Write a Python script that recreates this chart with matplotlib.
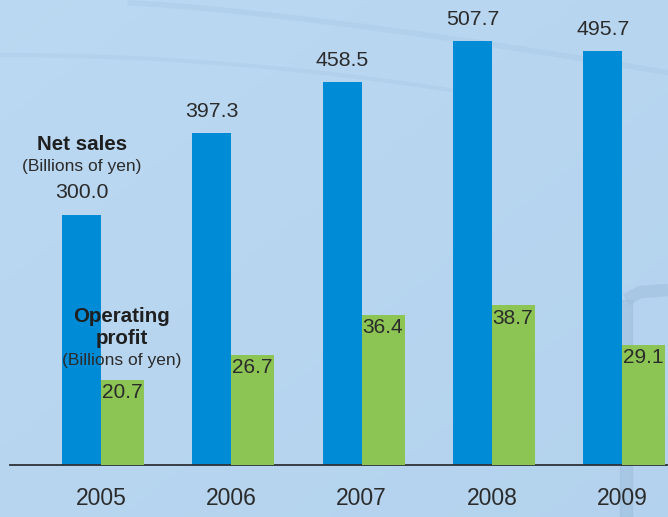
import matplotlib
matplotlib.use("Agg")
import matplotlib.pyplot as plt
import numpy as np

years = ["2005", "2006", "2007", "2008", "2009"]
net_sales = [300.0, 397.3, 458.5, 507.7, 495.7]
operating_profit = [20.7, 26.7, 36.4, 38.7, 29.1]

BLUE = "#008bd6"
GREEN = "#8cc553"
BG = "#b6d5f0"
TEXT = "#2b2b2b"

plt.rcParams["font.family"] = ["Liberation Sans", "DejaVu Sans"]

W, H = 668, 517
fig = plt.figure(figsize=(W / 100, H / 100), dpi=100)
fig.patch.set_facecolor(BG)

# soft backdrop: gentle gradient plus faint lamp post shapes
bg = fig.add_axes([0, 0, 1, 1])
bg.set_xlim(0, W)
bg.set_ylim(H, 0)
bg.axis("off")
yy, xx = np.mgrid[0:H, 0:W]
shade = 0.5 * (xx / W) + 0.5 * (yy / H)
r = 0.735 - 0.03 * shade
g = 0.850 - 0.025 * shade
b = 0.950 - 0.02 * shade
bg.imshow(np.dstack([r, g, b]), extent=[0, W, H, 0], aspect="auto", zorder=0)
t = np.linspace(0, 1, 100)
bg.plot(130 + 540 * t, 3 + 70 * t ** 1.3, color="#a3c5e4", lw=4, alpha=0.35, zorder=1)
bg.plot(0 + 450 * t, 55 + 35 * t ** 2, color="#a3c5e4", lw=3, alpha=0.3, zorder=1)
bg.fill_between([620, 632], 300, H, color="#9dbedd", alpha=0.55, zorder=1)
bg.plot([626, 640, 668], [300, 292, 290], color="#9dbedd", lw=9, alpha=0.55,
        solid_capstyle="butt", zorder=1)

# bar axes, twin y scales for the two series
base_px = 465
ax = fig.add_axes([0, 0, 1, 1], facecolor="none")
step = 130.3
left_px = 101
ax.set_xlim(-left_px / step, (W - left_px) / step)
blue_scale = 0.835
ax.set_ylim(-(H - base_px) / blue_scale, base_px / blue_scale)
ax.axis("off")

ax2 = ax.twinx()
green_scale = 4.13
ax2.set_ylim(-(H - base_px) / green_scale, base_px / green_scale)
ax2.axis("off")

x = np.arange(len(years))
wb = 39 / step
wg = 43 / step
ax.bar(x, net_sales, width=-wb, align="edge", color=BLUE, zorder=2)
ax2.bar(x, operating_profit, width=wg, align="edge", color=GREEN, zorder=2)

for xi, v in zip(x, net_sales):
    ax.annotate(f"{v:.1f}", (xi - wb / 2, v), xytext=(0, 9), textcoords="offset points",
                ha="center", va="bottom", fontsize=15.3, color=TEXT)
for xi, v in zip(x, operating_profit):
    ax2.annotate(f"{v:.1f}", (xi, v), xytext=(0.5, -2.5), textcoords="offset points",
                 ha="left", va="top", fontsize=15, color=TEXT)

ax.axhline(0, xmin=10 / W, xmax=1, color="#2e3238", lw=1.3, zorder=3)

for xi, yr in zip(x, years):
    ax.annotate(yr, (xi, 0), xytext=(0, -24), textcoords="offset points",
                ha="center", va="center", fontsize=16.5, color=TEXT)

# series captions
fig.text(82 / W, 1 - 145 / H, "Net sales", ha="center", va="center",
         fontsize=14.8, fontweight="bold", color="#1f1f1f")
fig.text(82 / W, 1 - 166 / H, "(Billions of yen)", ha="center", va="center",
         fontsize=12.5, color=TEXT)
fig.text(122 / W, 1 - 317 / H, "Operating", ha="center", va="center",
         fontsize=14.8, fontweight="bold", color="#1f1f1f")
fig.text(122 / W, 1 - 338 / H, "profit", ha="center", va="center",
         fontsize=14.8, fontweight="bold", color="#1f1f1f")
fig.text(122 / W, 1 - 361 / H, "(Billions of yen)", ha="center", va="center",
         fontsize=12.5, color=TEXT, zorder=5)

fig.savefig("out.png", dpi=100, facecolor=fig.get_facecolor())
